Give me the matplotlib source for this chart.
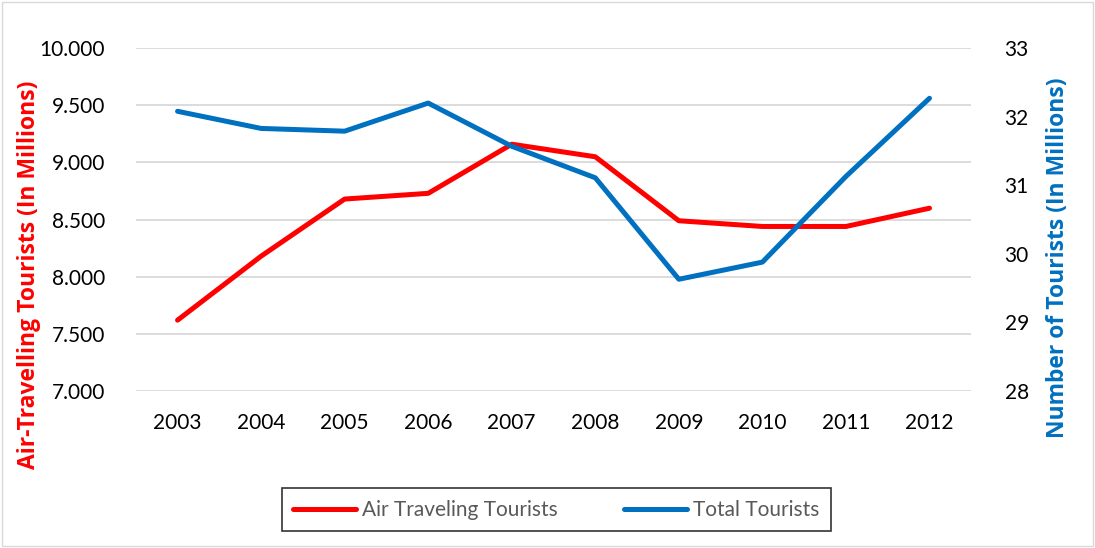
import matplotlib
matplotlib.use("Agg")
import matplotlib.pyplot as plt
from matplotlib.patches import Rectangle

years = ["2003", "2004", "2005", "2006", "2007", "2008", "2009", "2010", "2011", "2012"]
air_tourists = [7.62, 8.18, 8.68, 8.73, 9.16, 9.05, 8.49, 8.44, 8.44, 8.60]
total_tourists = [32.08, 31.83, 31.79, 32.20, 31.57, 31.11, 29.63, 29.88, 31.13, 32.27]
left_ticks = [7.0, 7.5, 8.0, 8.5, 9.0, 9.5, 10.0]
right_ticks = [28, 29, 30, 31, 32, 33]

RED = "#FF0000"
BLUE = "#0070C0"

plt.rcParams["font.family"] = ["Lato", "DejaVu Sans"]

fig = plt.figure(figsize=(10.95, 5.48), dpi=100)
fig.patches.append(Rectangle((0.002, 0.003), 0.996, 0.994, transform=fig.transFigure,
                             fill=False, edgecolor="#D9D9D9", linewidth=1))
ax = fig.add_axes([0.124, 0.2865, 0.763, 0.6255])
ax2 = ax.twinx()

x = list(range(len(years)))
l1, = ax.plot(x, air_tourists, color=RED, lw=3.6, solid_capstyle="round",
              label="Air Traveling Tourists", zorder=3)
l2, = ax2.plot(x, total_tourists, color=BLUE, lw=3.6, solid_capstyle="round",
               label="Total Tourists", zorder=3)

ax.set_xlim(-0.5, len(years) - 0.5)
ax.set_ylim(7.0, 10.0)
ax2.set_ylim(28, 33)
ax.set_yticks(left_ticks)
ax.set_yticklabels([f"{v:.3f}" for v in left_ticks])
ax2.set_yticks(right_ticks)
ax.set_xticks(x)
ax.set_xticklabels(years)

ax.grid(axis="y", color="#D9D9D9", lw=1.3)
ax.set_axisbelow(True)
for a in (ax, ax2):
    for s in a.spines.values():
        s.set_visible(False)
    a.tick_params(length=0, labelsize=15, colors="black")
ax.tick_params(axis="x", pad=16)
ax.tick_params(axis="y", pad=22)
ax2.tick_params(axis="y", pad=24)

label_font = dict(family=["Open Sans", "DejaVu Sans"], fontsize=16.5, fontweight="bold")
ax.set_ylabel("Air-Travelling Tourists (In Millions)", color=RED, **label_font)
ax2.set_ylabel("Number of Tourists (In Millions)", color=BLUE, **label_font)
ax.yaxis.set_label_coords(-0.113, 0.34)
ax2.yaxis.set_label_coords(1.09, 0.39)

leg = fig.legend([l1, l2], [l1.get_label(), l2.get_label()], loc="center",
                 bbox_to_anchor=(0.508, 0.0695), ncol=2, fontsize=15, frameon=True,
                 fancybox=False, edgecolor="black", handlelength=3.0,
                 columnspacing=3.2, borderpad=0.55, handletextpad=0.3,
                 labelcolor="#595959", borderaxespad=0)
leg.get_frame().set_linewidth(1.2)

fig.savefig("out.png", dpi=100)
